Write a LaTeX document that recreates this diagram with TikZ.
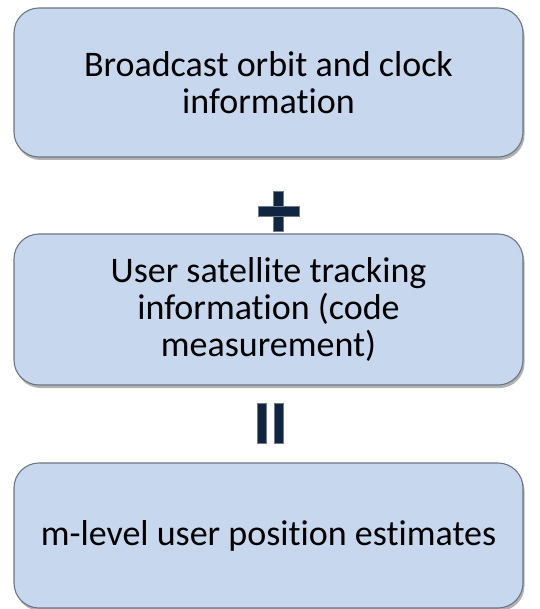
\documentclass[tikz,border=0pt]{standalone}
\usepackage{fontspec}
\setmainfont{Carlito}[Ligatures={NoCommon}]
\usetikzlibrary{shadows}
\definecolor{boxfill}{HTML}{C6D7EE}
\definecolor{boxline}{HTML}{6B7685}
\definecolor{opcolor}{HTML}{10253F}
\begin{document}
\begin{tikzpicture}[x=1pt,y=-1pt,
  infobox/.style={draw=boxline, line width=1.1pt, fill=boxfill, rounded corners=25pt,
    minimum width=509pt, align=center, inner sep=0pt,
    font=\fontsize{36}{37}\selectfont,
    drop shadow={shadow xshift=1.5pt, shadow yshift=-3pt, opacity=0.3, fill=black}},
  opbar/.style={fill=opcolor, draw=opcolor!60!white, line width=0.3pt}]
\useasboundingbox (0,0) rectangle (539,609);
\node[infobox, minimum height=149pt] (b1) at (268.5,82.5) {Broadcast orbit and clock\\information};
\node[infobox, minimum height=151pt] (b2) at (268.5,309.5) {User satellite tracking\\information (code\\measurement)};
\node[infobox, minimum height=145pt] (b3) at (268.5,535.5) {m-level user position estimates};
% plus sign
\coordinate (plus) at (278.5,211);
\fill[opbar] ([xshift=-5pt,yshift=20pt]plus) rectangle ([xshift=5pt,yshift=-20pt]plus);
\fill[opbar] ([xshift=-20.5pt,yshift=5pt]plus) rectangle ([xshift=20.5pt,yshift=-5pt]plus);
% equals (vertical bars)
\coordinate (eq) at (270,423);
\fill[opbar] ([xshift=-13pt,yshift=20pt]eq) rectangle ([xshift=-4pt,yshift=-20pt]eq);
\fill[opbar] ([xshift=4pt,yshift=20pt]eq) rectangle ([xshift=13pt,yshift=-20pt]eq);
\end{tikzpicture}
\end{document}
